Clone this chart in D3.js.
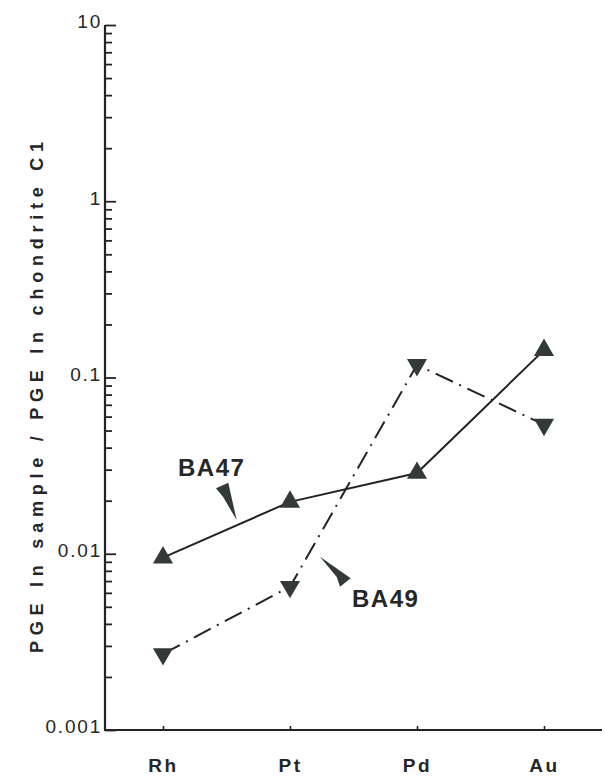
<!DOCTYPE html>
<html>
<head>
<meta charset="utf-8">
<script src="https://cdn.jsdelivr.net/npm/d3@7"></script>
<style>
  html, body { margin: 0; padding: 0; background: #ffffff; }
  svg { display: block; }
  text { font-family: "Liberation Sans", Arial, sans-serif; fill: #262626; }
</style>
</head>
<body>
<svg id="chart" width="605" height="777"></svg>
<script>
// ---- data ----
const categories = ["Rh", "Pt", "Pd", "Au"];
const ba47 = [0.0095, 0.0197, 0.0287, 0.143];
const ba49 = [0.0027, 0.0065, 0.118, 0.054];
const yTickValues = [0.001, 0.01, 0.1, 1, 10];
const yTickLabels = ["0.001", "0.01", "0.1", "1", "10"];
const yTitle = "PGE In sample  /  PGE In chondrite C1";
const seriesNames = ["BA47", "BA49"];

// ---- layout ----
const svg = d3.select("#chart");
const axisX = 105, axisBottomY = 730, axisTopY = 25, axisRightX = 602;
const x = d3.scaleLinear().domain([0, categories.length - 1]).range([163, 544]);
const y = d3.scaleLog().domain([0.001, 10]).range([axisBottomY, axisTopY]);
const ink = "#232323";
const markFill = "#333a37";
const fontFam = "\"Liberation Sans\", Arial, sans-serif";

// y axis line
svg.append("line")
  .attr("x1", axisX).attr("x2", axisX)
  .attr("y1", axisTopY).attr("y2", axisBottomY)
  .attr("stroke", ink).attr("stroke-width", 2.2);
// x axis line
svg.append("line")
  .attr("x1", axisX - 1).attr("x2", axisRightX)
  .attr("y1", axisBottomY).attr("y2", axisBottomY)
  .attr("stroke", ink).attr("stroke-width", 2.2);

// y ticks (major + minor, pointing inward)
const allTicks = [];
for (let e = -3; e < 1; e++) {
  for (let m = 1; m <= 9; m++) allTicks.push(m * Math.pow(10, e));
}
allTicks.push(10);
const yTickAxis = d3.axisRight(y).tickValues(allTicks).tickFormat("").tickSize(7);
const gy = svg.append("g").attr("transform", `translate(${axisX},0)`).call(yTickAxis);
gy.select(".domain").remove();
gy.selectAll(".tick line")
  .attr("stroke", ink).attr("stroke-width", 1.8)
  .attr("x2", d => (yTickValues.some(v => Math.abs(v - d) / v < 1e-9) ? 11 : 7));

// y labels
const yLabelAxis = d3.axisLeft(y).tickValues(yTickValues)
  .tickFormat((d, i) => yTickLabels[i]).tickSize(0).tickPadding(3);
const gyl = svg.append("g").attr("transform", `translate(${axisX},0)`).call(yLabelAxis);
gyl.select(".domain").remove();
gyl.selectAll(".tick text")
  .attr("font-size", 19).attr("letter-spacing", 1.8)
  .attr("font-family", fontFam)
  .attr("fill", ink).attr("dy", "0.15em");

// x axis ticks + labels
const xAxis = d3.axisBottom(x).tickValues(d3.range(categories.length))
  .tickFormat((d, i) => categories[i]).tickSizeInner(-4).tickSizeOuter(0).tickPadding(29);
const gx = svg.append("g").attr("transform", `translate(0,${axisBottomY})`).call(xAxis);
gx.select(".domain").remove();
gx.selectAll(".tick line").attr("stroke", ink).attr("stroke-width", 1.6);
gx.selectAll(".tick text")
  .attr("font-size", 19).attr("font-weight", "bold").attr("letter-spacing", 2.5)
  .attr("font-family", fontFam)
  .attr("fill", ink);

// y title
svg.append("text")
  .attr("transform", `translate(43,${(142 + 653) / 2}) rotate(-90)`)
  .attr("text-anchor", "middle")
  .attr("font-size", 18).attr("font-weight", "bold")
  .attr("textLength", 511).attr("lengthAdjust", "spacing")
  .attr("fill", ink)
  .text(yTitle);

// lines
const line = d3.line().x((d, i) => x(i)).y(d => y(d));
svg.append("path").datum(ba47).attr("d", line)
  .attr("fill", "none").attr("stroke", ink).attr("stroke-width", 2);
svg.append("path").datum(ba49).attr("d", line)
  .attr("fill", "none").attr("stroke", ink).attr("stroke-width", 2)
  .attr("stroke-dasharray", "19,7,2,7");

// markers
const tri = d3.symbol().type(d3.symbolTriangle).size(175);
svg.selectAll(".m47").data(ba47).enter().append("path")
  .attr("d", tri)
  .attr("transform", (d, i) => `translate(${x(i)},${y(d)})`)
  .attr("fill", markFill);
svg.selectAll(".m49").data(ba49).enter().append("path")
  .attr("d", tri)
  .attr("transform", (d, i) => `translate(${x(i)},${y(d)}) rotate(180)`)
  .attr("fill", markFill);

// annotations (positions in data space: category index, value)
const labelPos = [[0.118, 0.0276], [1.488, 0.0050]];
svg.selectAll(".slabel").data(seriesNames).enter().append("text")
  .attr("x", (d, i) => x(labelPos[i][0]))
  .attr("y", (d, i) => y(labelPos[i][1]))
  .attr("font-size", 24).attr("font-weight", "bold").attr("letter-spacing", 1.5)
  .attr("font-family", fontFam)
  .attr("fill", ink)
  .text(d => d);

// arrow wedges (category index, value)
const wedges = [
  [[0.514, 0.02529], [0.580, 0.01553], [0.475, 0.02089], [0.417, 0.02351]],
  [[1.236, 0.00962], [1.478, 0.00726], [1.394, 0.0065], [1.368, 0.00738]]
];
const wline = d3.line().x(p => x(p[0])).y(p => y(p[1])).curve(d3.curveLinearClosed);
svg.selectAll(".wedge").data(wedges).enter().append("path")
  .attr("d", wline)
  .attr("fill", markFill);
</script>
</body>
</html>
